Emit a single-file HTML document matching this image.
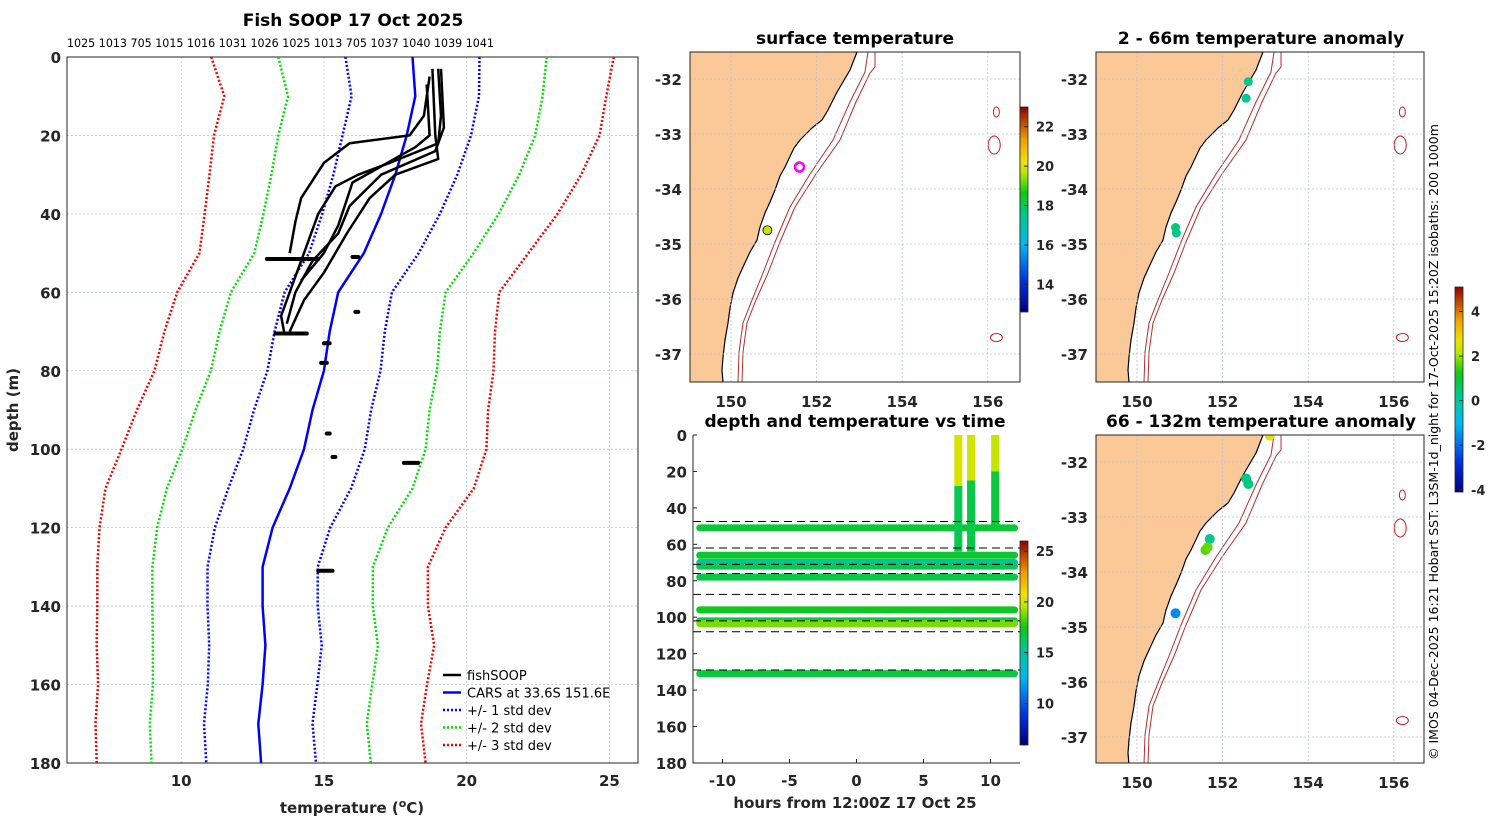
<!DOCTYPE html>
<html><head><meta charset="utf-8"><style>
html,body{margin:0;padding:0;background:#fff;}
svg{display:block;font-family:"DejaVu Sans","Liberation Sans",sans-serif;}
.tk{font-weight:bold;font-size:15px;fill:#262626;}
.tt{font-weight:bold;font-size:17px;fill:#000;}
</style></head><body>
<svg id="chart" width="1500" height="820" viewBox="0 0 1500 820" xmlns="http://www.w3.org/2000/svg">
<defs>
<linearGradient id="jet" x1="0" y1="1" x2="0" y2="0">
<stop offset="0" stop-color="#000080"/><stop offset="0.15" stop-color="#0030e0"/><stop offset="0.33" stop-color="#00b8f0"/><stop offset="0.47" stop-color="#00c890"/><stop offset="0.58" stop-color="#10c810"/><stop offset="0.68" stop-color="#b8e800"/><stop offset="0.74" stop-color="#f0e000"/><stop offset="0.84" stop-color="#f0a000"/><stop offset="1" stop-color="#900000"/>
</linearGradient>
<clipPath id="clipA"><rect x="690" y="52" width="330" height="330"/></clipPath>
<clipPath id="clipB"><rect x="1096" y="52" width="328" height="330"/></clipPath>
<clipPath id="clipC"><rect x="1096" y="435" width="328" height="328"/></clipPath>
</defs>
</svg>
<script>
// ---------------- data ----------------
const castIds = ["1025","1013","705","1015","1016","1031","1026","1025","1013","705","1037","1040","1039","1041"];
const carsDepth = [0,10,20,30,40,50,60,70,80,90,100,110,120,130,140,150,160,170,180];
const carsTemp = [18.1,18.2,17.9,17.5,17.0,16.4,15.5,15.2,15.0,14.6,14.3,13.8,13.2,12.85,12.85,12.95,12.85,12.7,12.8];
const carsStd = [2.35,2.23,2.25,2.17,2.06,1.92,1.88,1.93,1.98,2.05,2.13,2.15,2.02,1.93,1.93,1.97,1.92,1.90,1.92];
const prof1T = [19.0,19.1,19.0,17.3,16.2,15.4,14.8,14.3,13.9,13.5,13.6];
const prof1D = [3,15,22,27,30,33,40,50,58,66,70];
const prof2T = [18.7,18.5,18.0,15.9,15.0,14.2,14.0,13.8];
const prof2D = [5,15,20,22,27,36,42,50];
const prof3T = [19.1,19.2,18.9,17.0,15.9,15.5,14.6,14.0,13.7];
const prof3D = [3,18,24,30,38,45,52,60,68];
const prof4T = [18.8,18.9,19.0,17.5,16.6,15.8,15.0,14.3,13.8];
const prof4D = [3,20,26,30,36,45,55,62,70];
const prof5T = [18.6,18.7,18.2,16.0,15.5,15.0,14.2];
const prof5D = [7,20,23,32,43,50,57];
const blobT0 = [13.0,13.3,16.0,15.0,14.9,16.1,15.1,15.3,17.8,14.8];
const blobT1 = [14.8,14.4,16.2,15.2,15.1,16.2,15.2,15.4,18.3,15.3];
const blobD = [51.5,70.5,51,73,78,65,96,102,103.5,131];
const bandDepth = [51,66,70,72,78,96,102,103.5,131];
const bandTemp = [16.9,17.0,15.0,16.4,16.6,17.3,16.5,18.8,16.7];
const dashDepth = [47.5,62,71,76,87.5,102,108,129];
const barHour = [7.6,8.55,10.35];
const barBottom = [64,64,50];
const barWarmTo = [28,25,20];
const barWarmT = [20.3,20.1,19.8];
const barColdT = [16.4,16.6,16.8];
const sstLon = [151.6,150.85];
const sstLat = [-33.6,-34.75];
const sstTemp = [null,19.8];
const anomALon = [152.6,152.55,150.9,150.92];
const anomALat = [-32.05,-32.35,-34.7,-34.8];
const anomAVal = [0.3,0.2,0.4,0.3];
const anomBLon = [153.1,152.55,152.6,151.7,151.6,151.65,150.9];
const anomBLat = [-31.52,-32.3,-32.4,-33.4,-33.6,-33.55,-34.75];
const anomBVal = [2.6,0.3,0.4,0.2,1.6,1.7,-1.6];

// ---------------- helpers ----------------
const NS='http://www.w3.org/2000/svg';
const svg=document.getElementById('chart');
function mk(tag,attrs,parent){const e=document.createElementNS(NS,tag);for(const k in attrs)e.setAttribute(k,attrs[k]);(parent||svg).appendChild(e);return e;}
function txt(s,x,y,attrs,name){const e=mk('text',Object.assign({x:x,y:y},attrs));e.textContent=s;


return e;}
const cmStops=[[0,[0,0,128]],[0.15,[0,48,224]],[0.33,[0,184,240]],[0.47,[0,200,144]],[0.58,[16,200,16]],[0.68,[184,232,0]],[0.74,[240,224,0]],[0.84,[240,160,0]],[1,[144,0,0]]];
function jet(v){v=Math.max(0,Math.min(1,v));for(let i=1;i<cmStops.length;i++){if(v<=cmStops[i][0]){const a=cmStops[i-1],b=cmStops[i];const f=(v-a[0])/(b[0]-a[0]);const c=a[1].map((x,k)=>Math.round(x+(b[1][k]-x)*f));return `rgb(${c[0]},${c[1]},${c[2]})`;}}return 'rgb(144,0,0)';}

// ---------------- main profile chart ----------------
const tx=t=>67+(t-6)*28.55;
const dy=d=>57+d*3.922;
[10,15,20,25].forEach(t=>{const l=mk('line',{x1:tx(t),x2:tx(t),y1:57,y2:763,stroke:'#b8c4e0','stroke-width':0.8,'stroke-dasharray':'2,2'});


txt(String(t),tx(t),786,{class:'tk','text-anchor':'middle'},'x-tick-label');});
[0,20,40,60,80,100,120,140,160,180].forEach(d=>{if(d>0&&d<180){const l=mk('line',{x1:67,x2:638,y1:dy(d),y2:dy(d),stroke:'#b8c4e0','stroke-width':0.8,'stroke-dasharray':'2,2'});

}
txt(String(d),61,dy(d)+6,{class:'tk','text-anchor':'end'},'y-tick-label');});
const fr=mk('rect',{x:67,y:57,width:571,height:706,fill:'none',stroke:'#262626','stroke-width':1});


txt(castIds.join(' '),67,47,{'font-size':'11.1px',fill:'#000','font-family':'"DejaVu Sans",sans-serif'},'cast-id-labels');
txt('Fish SOOP 17 Oct 2025',353,26,{class:'tt','text-anchor':'middle'},'profile-title');
txt('depth (m)',18,410,{class:'tk','font-size':'16px','text-anchor':'middle',transform:'rotate(-90 18 410)'},'y-axis-title');
const xt=txt('temperature (',352,813,{class:'tk','font-size':'17px','text-anchor':'middle'},'x-axis-title');
const sup=mk('tspan',{dy:-6,'font-size':'11px'},xt);sup.textContent='o';
const rest=mk('tspan',{dy:6},xt);rest.textContent='C)';
function pathFrom(ts,ds){return ts.map((t,i)=>(i?'L':'M')+tx(t).toFixed(1)+','+dy(ds[i]).toFixed(1)).join('');}
const stdCols=['#0000ff','#00dd00','#ee0000'];
[1,2,3].forEach(k=>{[-1,1].forEach(s=>{const p=mk('path',{d:pathFrom(carsTemp.map((t,i)=>t+s*k*carsStd[i]),carsDepth),fill:'none',stroke:stdCols[k-1],'stroke-width':2.5,'stroke-dasharray':'2,2'});

});});
const cars=mk('path',{d:pathFrom(carsTemp,carsDepth),fill:'none',stroke:'#0000ff','stroke-width':2.5});


[[prof1T,prof1D],[prof2T,prof2D],[prof3T,prof3D],[prof4T,prof4D],[prof5T,prof5D]].forEach((p,i)=>{const e=mk('path',{d:pathFrom(p[0],p[1]),fill:'none',stroke:'#000','stroke-width':2.5,'stroke-linejoin':'round'});

});
blobD.forEach((d,i)=>{const e=mk('line',{x1:tx(blobT0[i]),x2:tx(blobT1[i]),y1:dy(d),y2:dy(d),stroke:'#000','stroke-width':4,'stroke-linecap':'round'});

});
const lg=mk('g',{});


const legItems=[['fishSOOP','#000',''],['CARS at 33.6S 151.6E','#0000ff',''],['+/- 1 std dev','#0000ff','2,2'],['+/- 2 std dev','#00dd00','2,2'],['+/- 3 std dev','#ee0000','2,2']];
legItems.forEach((it,i)=>{const y=675+i*17.5;const l=mk('line',{x1:443,x2:461,y1:y,y2:y,stroke:it[1],'stroke-width':2.5,'stroke-dasharray':it[2]||'none'},lg);


const t=txt(it[0],467,y+5,{'font-size':'13px',fill:'#000','font-family':'"DejaVu Sans",sans-serif'},'legend-entry');lg.appendChild(t);});

// ---------------- maps ----------------
const coastPx=[[167,0],[160,18],[150,35],[146,42],[138,58],[132,68],[122,76],[110,88],[104,96],[95,115],[90,124],[85,138],[80,150],[75,161],[70,175],[67,188],[60,200],[53,215],[48,226],[43,241],[40,256],[38,271],[35,288],[33,305],[32,318],[33,330]];
const iso200=[[178,0],[175,20],[160,50],[143,88],[120,122],[100,155],[85,190],[73,221],[62,248],[53,271],[49,300],[48,330]];
const iso1000=[[185,0],[185,15],[180,21],[166,50],[150,88],[126,122],[105,155],[90,190],[78,221],[66,248],[57,271],[53,300],[52,330]];
function drawMap(ox,oy,w,h,clip,name,title,titleY){
const g=mk('g',{});


const gc=mk('g',{'clip-path':'url(#'+clip+')'},g);
const lx=lon=>ox+41+(lon-150)*42.8;const ly=lat=>oy+27+(-32-lat)*55;
const land=mk('path',{d:'M'+(ox-5)+','+(oy-5)+' '+coastPx.map(p=>'L'+(ox+p[0])+','+(oy+p[1])).join(' ')+' L'+(ox+33)+','+(oy+h+5)+' L'+(ox-5)+','+(oy+h+5)+'Z',fill:'#fac997',stroke:'#000','stroke-width':1.2},gc);


[iso200,iso1000].forEach((iso,k)=>{const p=mk('path',{d:iso.map((q,i)=>(i?'L':'M')+(ox+q[0])+','+(oy+q[1])).join(' '),fill:'none',stroke:'#b03030','stroke-width':1},gc);

});
[[156.2,-32.6,3,5],[156.15,-33.2,6,9],[156.2,-36.7,6,4]].forEach(q=>{const e=mk('ellipse',{cx:lx(q[0]),cy:ly(q[1]),rx:q[2],ry:q[3],fill:'none',stroke:'#c02020','stroke-width':1},gc);

});
[150,152,154,156].forEach(lon=>{const l=mk('line',{x1:lx(lon),x2:lx(lon),y1:oy,y2:oy+h,stroke:'#b8c4e0','stroke-width':0.8,'stroke-dasharray':'2,2'},gc);


txt(String(lon),lx(lon),oy+h+25,{class:'tk','text-anchor':'middle'},'longitude-tick-label');});
[-32,-33,-34,-35,-36,-37].forEach(lat=>{const l=mk('line',{x1:ox,x2:ox+w,y1:ly(lat),y2:ly(lat),stroke:'#b8c4e0','stroke-width':0.8,'stroke-dasharray':'2,2'},gc);


txt(String(lat),ox-8,ly(lat)+6,{class:'tk','text-anchor':'end'},'latitude-tick-label');});
const f=mk('rect',{x:ox,y:oy,width:w,height:h,fill:'none',stroke:'#262626','stroke-width':1},g);


txt(title,ox+165,titleY,{class:'tt','text-anchor':'middle'},'map-title');
return {lx,ly,gc};}
const mA=drawMap(690,52,330,330,'clipA','surface-temperature-map','surface temperature',44);
const mB=drawMap(1096,52,328,330,'clipB','anomaly-2-66m-map','2 - 66m temperature anomaly',44);
const mC=drawMap(1096,435,328,328,'clipC','anomaly-66-132m-map','66 - 132m temperature anomaly',427);
sstLon.forEach((lon,i)=>{const isRing=sstTemp[i]===null;const c=mk('circle',{cx:mA.lx(lon),cy:mA.ly(sstLat[i]),r:4.5,fill:isRing?'none':jet((sstTemp[i]-12.6)/10.4),stroke:isRing?'#ff00ff':'#000','stroke-width':isRing?2.5:0.8},mA.gc);

});
anomALon.forEach((lon,i)=>{const c=mk('circle',{cx:mB.lx(lon),cy:mB.ly(anomALat[i]),r:4.5,fill:jet((anomAVal[i]+4.1)/9.2)},mB.gc);

});
anomBLon.forEach((lon,i)=>{const c=mk('circle',{cx:mC.lx(lon),cy:mC.ly(anomBLat[i]),r:5,fill:jet((anomBVal[i]+4.1)/9.2)},mC.gc);

});

// ---------------- colorbars ----------------
function colorbar(x,y0,y1,vmin,vmax,ticks,name){const r=mk('rect',{x:x,y:y0,width:8,height:y1-y0,fill:'url(#jet)',stroke:'#262626','stroke-width':0.8});


ticks.forEach(t=>{const y=y1-(t-vmin)/(vmax-vmin)*(y1-y0);mk('line',{x1:x+8,x2:x+4,y1:y,y2:y,stroke:'#262626'});
txt(String(t),x+16,y+5,{'font-size':'13px','font-weight':'bold',fill:'#262626'},name+'-tick-label');});}
colorbar(1020,107,312,12.6,23.0,[14,16,18,20,22],'sst-colorbar');
colorbar(1455,287,492,-4.1,5.1,[-4,-2,0,2,4],'anomaly-colorbar');
colorbar(1020,541,745,5.9,26.0,[10,15,20,25],'time-plot-colorbar');

// ---------------- depth/temperature vs time ----------------
const hx=h=>693+(h+12.2)*13.4;
const hy=d=>435+d*1.822;
const tc=t=>jet((t-5.9)/20.1);
bandDepth.forEach((d,i)=>{const l=mk('line',{x1:hx(-11.7),x2:hx(11.8),y1:hy(d),y2:hy(d),stroke:tc(bandTemp[i]),'stroke-width':7,'stroke-linecap':'round'});

});
barHour.forEach((h,i)=>{const a=mk('line',{x1:hx(h),x2:hx(h),y1:hy(0),y2:hy(barWarmTo[i]),stroke:tc(barWarmT[i]),'stroke-width':8});


const b=mk('line',{x1:hx(h),x2:hx(h),y1:hy(barWarmTo[i]),y2:hy(barBottom[i]),stroke:tc(barColdT[i]),'stroke-width':8});

});
dashDepth.forEach(d=>{const l=mk('line',{x1:693,x2:1020,y1:hy(d),y2:hy(d),stroke:'#000','stroke-width':1,'stroke-dasharray':'8,5'});

});
const ax=mk('path',{d:'M693,435 L693,763 L1020,763',fill:'none',stroke:'#262626','stroke-width':1});


[-10,-5,0,5,10].forEach(h=>{mk('line',{x1:hx(h),x2:hx(h),y1:763,y2:759,stroke:'#262626'});
txt(String(h),hx(h),786,{class:'tk','text-anchor':'middle'},'time-tick-label');});
[0,20,40,60,80,100,120,140,160,180].forEach(d=>{mk('line',{x1:693,x2:697,y1:hy(d),y2:hy(d),stroke:'#262626'});
txt(String(d),687,hy(d)+6,{class:'tk','text-anchor':'end'},'time-plot-depth-tick-label');});
txt('depth and temperature vs time',855,427,{class:'tt','text-anchor':'middle'},'time-plot-title');
txt('hours from 12:00Z 17 Oct 25',855,808,{class:'tk','font-size':'17px','text-anchor':'middle'},'time-axis-title');
txt('\u00a9 IMOS 04-Dec-2025 16:21 Hobart SST: L3SM-1d_night for 17-Oct-2025 15:20Z isobaths: 200  1000m',1438,760,{'font-size':'12.5px',fill:'#000',transform:'rotate(-90 1438 760)'},'credit-text');
</script>
</body></html>
